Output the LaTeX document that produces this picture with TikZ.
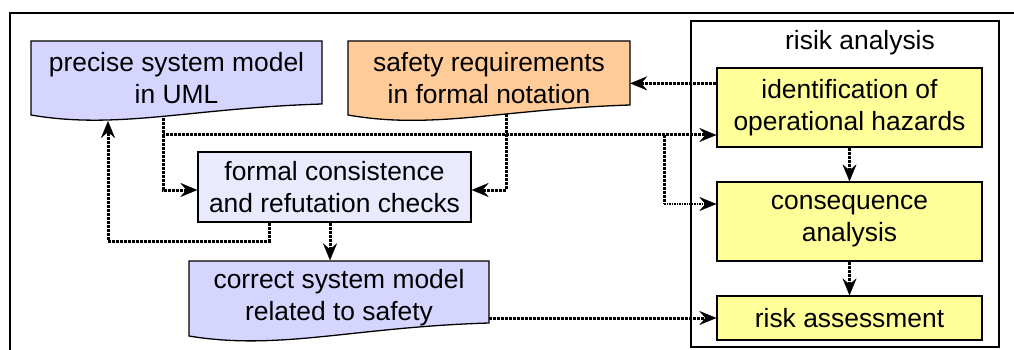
\documentclass[tikz,border=0pt]{standalone}
\usepackage{fontspec}
\setmainfont{Liberation Sans}
\usetikzlibrary{arrows.meta,calc}
\definecolor{lav}{HTML}{D5D5FF}
\definecolor{lavlight}{HTML}{EAEAFF}
\definecolor{orng}{HTML}{FFCC99}
\definecolor{yel}{HTML}{FFFF99}
\begin{document}
\begin{tikzpicture}[x=1pt,y=-1pt,
  txt/.style={inner sep=0pt, align=center, font=\fontsize{26.4}{32}\selectfont},
  box/.style={txt, draw, line width=1.3pt},
  docshape/.style={draw, line width=1.3pt},
  frame/.style={draw, line width=2.2pt},
  conn/.style={line width=3pt, dash pattern=on 3pt off 1pt,
    -{Stealth[length=17pt,width=14pt,inset=6pt,line width=0.3pt]}},
  thinconn/.style={conn, line width=1.5pt, dash pattern=on 1.5pt off 1pt},
]
\useasboundingbox (0,0) rectangle (1014,350);
% outer frame (extends beyond the picture)
\draw[line width=2pt] (10,400) -- (10,13) -- (1060,13);
% risk analysis frame
\node[frame, minimum width=308pt, minimum height=326pt, inner sep=0pt] (ra) at (845,184) {};
\node[txt] (ral) at (860,43) {risik analysis};
% yellow boxes
\node[box, fill=yel, minimum width=265pt, minimum height=79pt] (id) at (849.5,107.5) {identification of\\operational hazards};
\node[box, fill=yel, minimum width=265pt, minimum height=79pt] (cons) at (849.5,221.5) {consequence\\analysis};
\node[box, fill=yel, minimum width=265pt, minimum height=44pt] (rass) at (849.5,318) {risk assessment};
% formal checks
\node[box, fill=lavlight, minimum width=273pt, minimum height=70pt] (fc) at (334.5,187) {formal consistence\\and refutation checks};
% document shapes
\draw[docshape, fill=lav] (31,41) -- (322,41) -- (322,104)
  .. controls (191,108) and (118,130) .. (31,115) -- cycle;
\draw[docshape, fill=orng] (348,41) -- (630,41) -- (630,105)
  .. controls (503,109) and (433,130) .. (348,115) -- cycle;
\draw[docshape, fill=lav] (189,261) -- (489,261) -- (489,323)
  .. controls (354,327) and (279,351) .. (189,336) -- cycle;
\node[txt, minimum width=291pt, minimum height=74pt] (pm) at (176.5,78) {precise system model\\in UML};
\node[txt, minimum width=282pt, minimum height=74pt] (sr) at (489,78) {safety requirements\\in formal notation};
\node[txt, minimum width=300pt, minimum height=75pt] (cs) at (339,298) {correct system model\\related to safety};
% junction coordinates
\coordinate (idA) at ($(id.north west)+(0,16)$);
\coordinate (pmA) at (163,118);
\coordinate (pmB) at (108,121);
\coordinate (j1) at (163,135);
\coordinate (j2) at (163,190);
\coordinate (srA) at (506,114);
\coordinate (j4) at (506,190);
\coordinate (j3) at (664,135);
\coordinate (j5) at (664,204);
\coordinate (fcA) at ($(fc.south)+(-65.5,0)$);
\coordinate (fcB) at ($(fc.south)+(-4.5,0)$);
\coordinate (j6) at (269,241);
\coordinate (j7) at (108,241);
% connectors
\draw[conn] (idA) -- (sr.east |- idA);
\draw[conn] (pmA) -- (j1) -- (id.west |- j1);
\draw[conn] (j1) -- (j2) -- (fc.west |- j2);
\draw[conn] (srA) -- (j4) -- (fc.east |- j4);
\draw[conn, -] (j3) -- (j5);
\draw[thinconn] (j5) -- (cons.west |- j5);
\draw[conn] (fcA) -- (j6) -- (j7) -- (pmB);
\draw[conn] (fcB) -- (fcB |- cs.north);
\draw[conn] (id.south) -- (cons.north);
\draw[conn] (cons.south) -- (rass.north);
\draw[conn] (cs.east |- rass.west) -- (rass.west);
\end{tikzpicture}
\end{document}
